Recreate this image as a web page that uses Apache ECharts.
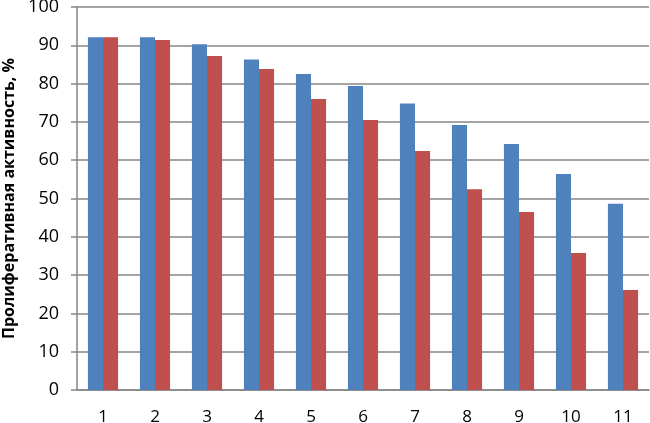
<!DOCTYPE html>
<html>
<head>
<meta charset="utf-8">
<script src="https://cdn.jsdelivr.net/npm/echarts@6/dist/echarts.min.js"></script>
<style>
  html, body { margin: 0; padding: 0; background: #fff; }
  #chart { width: 650px; height: 423px; }
</style>
</head>
<body>
<div id="chart"></div>
<script>
const categories = ["1", "2", "3", "4", "5", "6", "7", "8", "9", "10", "11"];
const blueValues = [92.1, 92.1, 90.3, 86.3, 82.5, 79.4, 74.8, 69.2, 64.2, 56.4, 48.6];
const redValues = [92.1, 91.4, 87.2, 83.8, 76.0, 70.5, 62.4, 52.4, 46.5, 35.8, 26.1];
const yTicks = { min: 0, max: 100, interval: 10 };

const myChart = echarts.init(document.getElementById("chart"));

const axisGray = "#868686";
const font = "'Open Sans', 'Liberation Sans', sans-serif";

myChart.setOption({
  animation: false,
  grid: {
    top: 7,
    right: 1,
    bottom: 33,
    left: 77,
    containLabel: false,
    outerBoundsMode: "none",
  },
  xAxis: {
    type: "category",
    data: categories,
    axisLine: { lineStyle: { color: axisGray, width: 1.5 } },
    axisTick: { length: 5, lineStyle: { color: axisGray, width: 1.5 } },
    axisLabel: {
      color: "#000",
      fontFamily: font,
      fontSize: 17,
      margin: 19,
    },
  },
  yAxis: {
    type: "value",
    min: yTicks.min,
    max: yTicks.max,
    interval: yTicks.interval,
    name: "Пролиферативная активность, %",
    nameLocation: "middle",
    nameGap: 60,
    nameTextStyle: {
      color: "#000",
      fontFamily: font,
      fontWeight: "bold",
      fontSize: 16,
    },
    axisLine: { show: true, lineStyle: { color: axisGray, width: 1.5 } },
    axisTick: { show: true, length: 6, lineStyle: { color: axisGray, width: 1.5 } },
    axisLabel: {
      color: "#000",
      fontFamily: font,
      fontSize: 18,
      margin: 18,
    },
    splitLine: { lineStyle: { color: axisGray, width: 1.5 } },
  },
  series: [
    {
      name: "A",
      type: "bar",
      data: blueValues,
      barGap: "0%",
      barCategoryGap: "42%",
      itemStyle: { color: "#4F81BD" },
    },
    {
      name: "B",
      type: "bar",
      data: redValues,
      itemStyle: { color: "#C0504D" },
    },
  ],
});
</script>
</body>
</html>
